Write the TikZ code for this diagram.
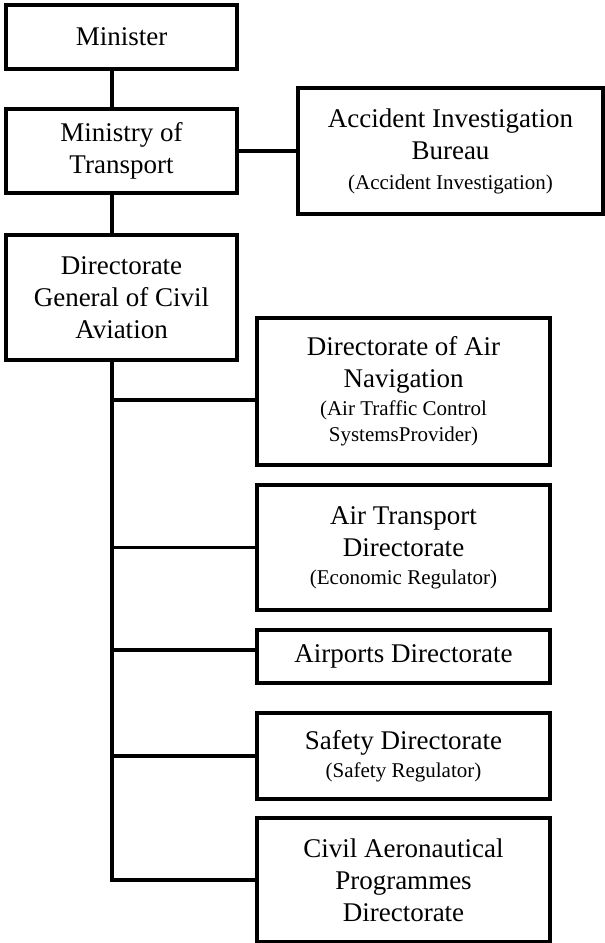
\documentclass[tikz,border=0pt]{standalone}
\usepackage{fontspec}
\setmainfont{Liberation Serif}
\usepackage{tikz}
\usetikzlibrary{calc}
\newcommand{\subline}[1]{{\fontsize{10.5}{13}\selectfont #1}}

\begin{document}
\begin{tikzpicture}[x=0.5pt,y=-0.5pt,
        box/.style={draw,line width=1.6pt,align=center,inner sep=0pt,
            font=\fontsize{13.5}{16}\selectfont},
        leftbox/.style={box,minimum width=115.5pt},
        rightbox/.style={box,minimum width=146.5pt},
        link/.style={line width=1.6pt}]
        \useasboundingbox (0,0) rectangle (605,943);

        % left column
        \node[leftbox,minimum height=32pt] (min) at (121.5,37) {Minister};
        \node[leftbox,minimum height=42pt] (mot) at (121.5,151) {Ministry of\\Transport};
        \node[leftbox,minimum height=62.5pt] (dgca) at (121.5,297.5) {Directorate\\General of Civil\\Aviation};
        \node[box,minimum width=152.5pt,minimum height=63pt] (aib) at (450.5,151)
            {Accident Investigation\\Bureau\\[-1pt]\subline{(Accident Investigation)}};

        % right column
        \node[rightbox,minimum height=73.5pt] (dan) at (403.5,391.5)
            {Directorate of Air\\Navigation\\[-2pt]\subline{(Air Traffic Control}\\[-3pt]\subline{SystemsProvider)}};
        \node[rightbox,minimum height=62.5pt] (atd) at (403.5,547.5)
            {Air Transport\\Directorate\\[-2pt]\subline{(Economic Regulator)}};
        \node[rightbox,minimum height=26.5pt] (apd) at (403.5,656.5) {Airports Directorate};
        \node[rightbox,minimum height=43pt] (sfd) at (403.5,756)
            {Safety Directorate\\[-2pt]\subline{(Safety Regulator)}};
        \node[rightbox,minimum height=62pt] (cap) at (403.5,880)
            {Civil Aeronautical\\Programmes\\Directorate};

        % links
        \coordinate (trunk) at ([xshift=-4.75pt]dgca.south);
        \coordinate (danin) at ([yshift=-4.25pt]dan.west);
        \coordinate (apdin) at ([yshift=3.25pt]apd.west);
        \draw[link] ([xshift=-4.75pt]min.south) -- ([xshift=-4.75pt]mot.north);
        \draw[link] ([xshift=-4.75pt]mot.south) -- (trunk |- dgca.north);
        \draw[link] (mot) -- (aib);
        \draw[link] (trunk) -- (trunk |- cap.west) -- (cap.west);
        \draw[link] (trunk |- danin) -- (danin);
        \draw[link] (trunk |- atd.west) -- (atd.west);
        \draw[link] (trunk |- apdin) -- (apdin);
        \draw[link] (trunk |- sfd.west) -- (sfd.west);
    \end{tikzpicture}
\end{document}
